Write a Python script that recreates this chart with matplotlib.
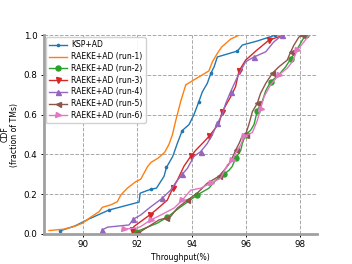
import numpy as np
import matplotlib
matplotlib.use('Agg')
import matplotlib.pyplot as plt

# CDF curves (throughput %, fraction of TMs)
ksp_x = [89.15, 89.7, 90.2, 90.95, 92.06, 92.1, 92.5, 92.7, 92.98, 93.07, 93.3, 93.47,
         93.65, 93.9, 94.08, 94.26, 94.39, 94.57, 94.7, 94.82, 94.94, 95.68, 95.86, 96.4, 97.08]
ksp_y = [0.015, 0.04, 0.074, 0.12, 0.16, 0.205, 0.225, 0.23, 0.29, 0.335, 0.39, 0.456,
         0.52, 0.55, 0.6, 0.665, 0.715, 0.757, 0.807, 0.84, 0.89, 0.92, 0.95, 0.97, 1.0]

run1_x = [88.75, 89.3, 89.67, 89.98, 90.28, 90.59, 90.71, 91.02, 91.26, 91.39, 91.63, 91.94,
          92.12, 92.24, 92.37, 92.5, 92.75, 93.0, 93.16, 93.29, 93.41, 93.6, 93.78, 94.02,
          94.39, 94.63, 94.76, 94.94, 95.1, 95.43, 95.74]
run1_y = [0.017, 0.024, 0.037, 0.054, 0.084, 0.112, 0.134, 0.146, 0.162, 0.196, 0.23, 0.263,
          0.275, 0.305, 0.338, 0.36, 0.38, 0.41, 0.45, 0.5, 0.57, 0.67, 0.75, 0.77,
          0.8, 0.82, 0.866, 0.908, 0.94, 0.98, 1.0]

run2_x = [91.94, 92.12, 92.73, 93.1, 93.53, 93.84, 94.2, 94.63, 94.88, 95.18, 95.37, 95.49,
          95.61, 95.8, 95.86, 95.98, 96.16, 96.29, 96.41, 96.6, 96.72, 96.9, 97.2, 97.45,
          97.64, 97.88, 98.07, 98.19]
run2_y = [0.012, 0.02, 0.054, 0.084, 0.13, 0.16, 0.196, 0.23, 0.27, 0.3, 0.32, 0.34,
          0.38, 0.42, 0.455, 0.5, 0.52, 0.55, 0.62, 0.67, 0.72, 0.765, 0.8, 0.84,
          0.88, 0.93, 0.975, 1.0]

run3_x = [91.8, 91.87, 92.2, 92.45, 92.68, 93.1, 93.3, 93.47, 93.71, 93.96, 94.14, 94.39,
          94.63, 94.8, 95.0, 95.12, 95.43, 95.61, 95.74, 95.98, 96.4, 96.84, 97.39]
run3_y = [0.02, 0.037, 0.07, 0.095, 0.12, 0.17, 0.23, 0.27, 0.34, 0.39, 0.42, 0.455,
          0.49, 0.52, 0.556, 0.615, 0.69, 0.74, 0.82, 0.874, 0.925, 0.975, 1.0]

run4_x = [90.71, 90.9, 91.69, 91.85, 92.12, 92.43, 92.92, 93.22, 93.47, 93.65, 93.84, 94.08,
          94.33, 94.57, 94.76, 94.94, 95.12, 95.25, 95.43, 95.68, 95.98, 96.29, 96.72, 97.02, 97.33]
run4_y = [0.02, 0.034, 0.045, 0.074, 0.095, 0.13, 0.18, 0.22, 0.27, 0.3, 0.33, 0.39,
          0.414, 0.455, 0.5, 0.556, 0.6, 0.657, 0.715, 0.79, 0.866, 0.89, 0.916, 0.966, 1.0]

run5_x = [92.0, 92.12, 92.79, 93.04, 93.22, 93.47, 93.84, 94.2, 94.57, 95.0, 95.25, 95.43,
          95.61, 95.74, 95.85, 95.98, 96.1, 96.23, 96.41, 96.53, 96.72, 96.96, 97.2, 97.51,
          97.64, 97.76, 97.94, 98.07]
run5_y = [0.005, 0.012, 0.07, 0.08, 0.087, 0.13, 0.17, 0.205, 0.255, 0.29, 0.33, 0.363,
          0.42, 0.455, 0.49, 0.5, 0.55, 0.615, 0.657, 0.707, 0.757, 0.807, 0.84, 0.874,
          0.916, 0.95, 0.99, 1.0]

run6_x = [91.5, 92.0, 92.12, 92.49, 92.86, 93.35, 93.65, 93.96, 94.33, 94.7, 95.06, 95.31,
          95.49, 95.61, 95.8, 95.92, 96.23, 96.41, 96.53, 96.66, 96.9, 97.2, 97.51, 97.7,
          97.88, 98.13, 98.31]
run6_y = [0.024, 0.03, 0.037, 0.07, 0.095, 0.13, 0.17, 0.22, 0.23, 0.255, 0.28, 0.347,
          0.37, 0.405, 0.447, 0.49, 0.51, 0.57, 0.63, 0.69, 0.75, 0.8, 0.833, 0.866,
          0.925, 0.966, 1.0]

series = [
    ('KSP+AD', ksp_x, ksp_y, '.', '#1f77b4'),
    ('RAEKE+AD (run-1)', run1_x, run1_y, None, '#ff7f0e'),
    ('RAEKE+AD (run-2)', run2_x, run2_y, 'o', '#2ca02c'),
    ('RAEKE+AD (run-3)', run3_x, run3_y, 'v', '#d62728'),
    ('RAEKE+AD (run-4)', run4_x, run4_y, '^', '#9467bd'),
    ('RAEKE+AD (run-5)', run5_x, run5_y, '<', '#8c564b'),
    ('RAEKE+AD (run-6)', run6_x, run6_y, '>', '#e377c2'),
]

fig = plt.figure(figsize=(3.52, 2.64), dpi=100)
ax = fig.add_axes([0.124, 0.114, 0.776, 0.753])

for label, xs, ys, mk, col in series:
    ax.plot(xs, ys, color=col, marker=mk, markersize=3.6 if mk != '.' else 3.2,
            markevery=3, linewidth=1.0, label=label)

ax.set_xlim(88.55, 98.6)
ax.set_ylim(0, 1.0)
ax.set_xticks([90, 92, 94, 96, 98])
ax.set_yticks([0.0, 0.2, 0.4, 0.6, 0.8, 1.0])
ax.grid(True, linestyle='--', color='#a8a8a8', linewidth=0.7)
ax.tick_params(labelsize=6.3, length=2.5, width=0.7, pad=2)

for s in ['top', 'right']:
    ax.spines[s].set_visible(False)
for s in ['left', 'bottom']:
    ax.spines[s].set_color('#a0a0a0')
    ax.spines[s].set_linewidth(2)

ax.set_xlabel('Throughput(%)', fontsize=5.6, labelpad=3)
ax.set_ylabel('CDF\n(fraction of TMs)', fontsize=5.6, labelpad=3, linespacing=1.1)
ax.legend(loc='upper left', fontsize=5.5, handlelength=2.3, borderaxespad=0.3,
          labelspacing=0.36, framealpha=0.9, handletextpad=0.6, borderpad=0.4)

fig.savefig('out.png', dpi=100)
